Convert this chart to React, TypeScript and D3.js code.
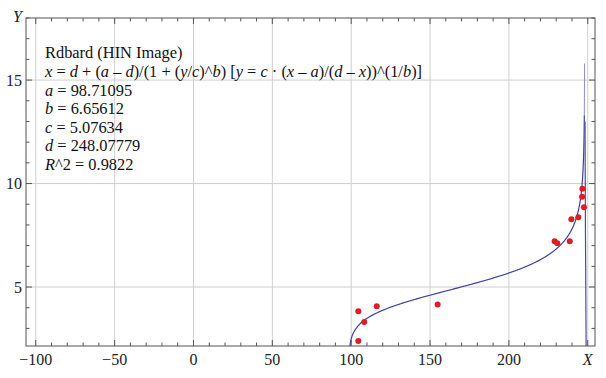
import React from "react";
import * as d3 from "d3";

const W = 606;
const H = 378;

// fitted parameters (shown in the chart)
const paramA = 98.71095;
const paramB = 6.65612;
const paramC = 5.07634;
const paramD = 248.07779;

// data points
const pointX = [104.5, 116.2, 108.3, 104.5, 154.8, 229.0, 230.7, 238.6, 239.6, 244.0, 246.6, 246.4, 247.6];
const pointY = [3.83, 4.07, 3.31, 2.39, 4.16, 7.21, 7.11, 7.21, 8.27, 8.37, 9.75, 9.36, 8.86];

const xMajor = [-100, -50, 0, 50, 100, 150, 200, 250];
const xLabels = ["\u2212100", "\u221250", "0", "50", "100", "150", "200"];
const yMajor = [5, 10, 15];
const yLabels = ["5", "10", "15"];

// annotation lines: [text, italic]
const annotation: [string, boolean][][] = [
  [["Rdbard (HIN Image)", false]],
  [
    ["x", true], [" = ", false], ["d", true], [" + (", false], ["a", true], [" \u2013 ", false], ["d", true],
    [")/(1 + (", false], ["y", true], ["/", false], ["c", true], [")^", false], ["b", true], [") [", false],
    ["y", true], [" = ", false], ["c", true], [" \u00b7 (", false], ["x", true], [" \u2013 ", false], ["a", true],
    [")/(", false], ["d", true], [" \u2013 ", false], ["x", true], ["))^(1/", false], ["b", true], [")]", false],
  ],
  [["a", true], [" = 98.71095", false]],
  [["b", true], [" = 6.65612", false]],
  [["c", true], [" = 5.07634", false]],
  [["d", true], [" = 248.07779", false]],
  [["R", true], ["^2 = 0.9822", false]],
];

const tstyle = { fontFamily: "Liberation Serif" };

export default function App() {
  const left = 26, right = 595, top = 18, bottom = 346;
  const x = d3.scaleLinear().domain([-106.2, 254.6]).range([left, right]);
  const y = d3.scaleLinear().domain([2.15, 18.0]).range([bottom, top]);

  // model curve x = d + (a-d)/(1+(y/c)^b), sampled along y
  const yMinVal = 2.15;
  const yTop = 13.3;
  const curvePts: [number, number][] = [];
  const n = 600;
  for (let i = 0; i <= n; i++) {
    const yy = yMinVal + (yTop - yMinVal) * (i / n);
    const xx = paramD + (paramA - paramD) / (1 + Math.pow(yy / paramC, paramB));
    curvePts.push([xx, yy]);
  }
  const line = d3.line<[number, number]>().x((p) => x(p[0])).y((p) => y(p[1]));

  const xMinor = d3.range(-100, 255, 10).filter((v) => v % 50 !== 0);
  const yMinor = d3.range(3, 18.01, 1).filter((v) => v % 5 !== 0);

  const frame = "#555";
  const grid = "#cfcfcf";

  return (
    <svg width={W} height={H} style={{ position: "absolute", left: 0, top: 0, background: "#fff" }}>
      <defs>
        <clipPath id="plotclip">
          <rect x={left} y={top} width={right - left} height={bottom - top} />
        </clipPath>
      </defs>
      <rect x={0} y={0} width={W} height={H} fill="#fff" />
      {/* grid */}
      {xMajor.map((v) => (
        <line key={"gx" + v} x1={x(v)} x2={x(v)} y1={top} y2={bottom} stroke={grid} strokeWidth={1} />
      ))}
      {yMajor.map((v) => (
        <line key={"gy" + v} x1={left} x2={right} y1={y(v)} y2={y(v)} stroke={grid} strokeWidth={1} />
      ))}
      {/* ticks */}
      {xMajor.map((v) => (
        <g key={"tx" + v}>
          <line x1={x(v)} x2={x(v)} y1={bottom} y2={bottom - 6} stroke={frame} />
          <line x1={x(v)} x2={x(v)} y1={top} y2={top + 6} stroke={frame} />
        </g>
      ))}
      {xMinor.map((v) => (
        <g key={"mx" + v}>
          <line x1={x(v)} x2={x(v)} y1={bottom} y2={bottom - 3.5} stroke={frame} />
          <line x1={x(v)} x2={x(v)} y1={top} y2={top + 3.5} stroke={frame} />
        </g>
      ))}
      {yMajor.map((v) => (
        <g key={"ty" + v}>
          <line x1={left} x2={left + 6} y1={y(v)} y2={y(v)} stroke={frame} />
          <line x1={right} x2={right - 6} y1={y(v)} y2={y(v)} stroke={frame} />
        </g>
      ))}
      {yMinor.map((v) => (
        <g key={"my" + v}>
          <line x1={left} x2={left + 3.5} y1={y(v)} y2={y(v)} stroke={frame} />
          <line x1={right} x2={right - 3.5} y1={y(v)} y2={y(v)} stroke={frame} />
        </g>
      ))}
      {/* curve */}
      <g clipPath="url(#plotclip)">
        <path d={line(curvePts) || ""} fill="none" stroke="#4040a4" strokeWidth={1.2} />
        <path d={line([[paramD - 0.25, yTop], [paramD - 0.08, 15.8]]) || ""} fill="none" stroke="#8d8dd0" strokeWidth={1} />
        <path d={line([[paramD + 0.2, 13.0], [paramD + 0.45, 8.0], [paramD + 0.9, 2.15]]) || ""} fill="none" stroke="#4a4aa8" strokeWidth={1.2} />
      </g>
      {/* points */}
      {pointX.map((v, i) => (
        <circle key={"p" + i} cx={x(v)} cy={y(pointY[i])} r={3} fill="#e01b24" />
      ))}
      {/* frame */}
      <rect x={left} y={top} width={right - left} height={bottom - top} fill="none" stroke={frame} strokeWidth={1} />
      {/* tick labels */}
      {xLabels.map((t, i) => (
        <text key={"lx" + i} x={x(xMajor[i])} y={365} fontSize={16} textAnchor="middle" fill="#222" style={tstyle}>{t}</text>
      ))}
      <text x={x(250)} y={365} fontSize={16} textAnchor="middle" fontStyle="italic" fill="#222" style={tstyle}>X</text>
      {yLabels.map((t, i) => (
        <text key={"ly" + i} x={22} y={y(yMajor[i]) + 5.5} fontSize={16} textAnchor="end" fill="#222" style={tstyle}>{t}</text>
      ))}
      <text x={22} y={22} fontSize={16} textAnchor="end" fontStyle="italic" fill="#222" style={tstyle}>Y</text>
      {/* annotation */}
      {annotation.map((segs, li) => (
        <text key={"an" + li} x={45} y={58.3 + li * 18.6} fontSize={16.4} fill="#111" style={tstyle}>
          {segs.map((s, si) => (
            <tspan key={si} fontStyle={s[1] ? "italic" : "normal"}>{s[0]}</tspan>
          ))}
        </text>
      ))}
    </svg>
  );
}
